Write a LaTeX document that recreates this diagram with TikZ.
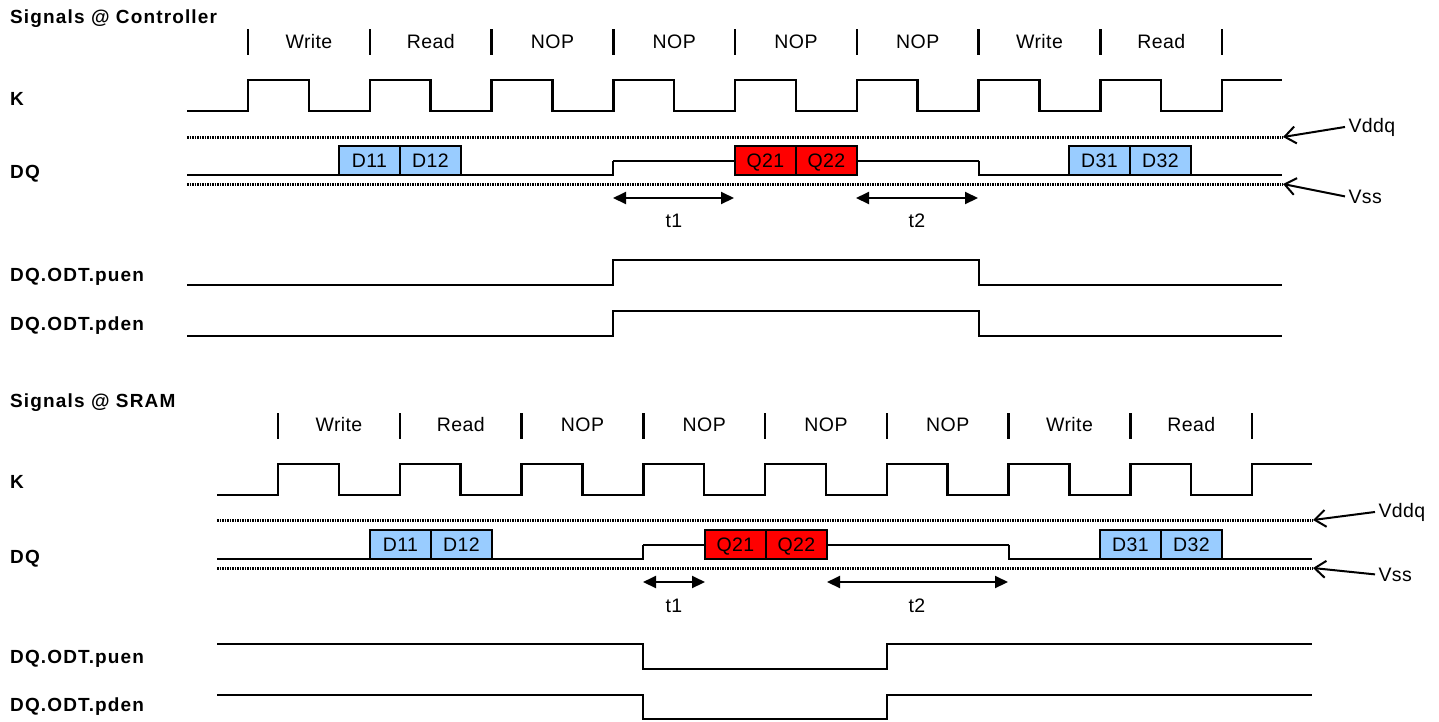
\documentclass[tikz,border=0pt]{standalone}
\usepackage{fontspec}
\setmainfont{Liberation Sans}[LetterSpace=2, BoldFeatures={LetterSpace=6}]
\usetikzlibrary{arrows.meta,positioning}
\definecolor{wrblue}{RGB}{153,204,255}

\begin{document}
\begin{tikzpicture}[x=1pt, y=-1pt, font=\fontsize{19.5}{22}\selectfont,
    sig/.style={line width=2.5pt},
    mid/.style={line width=2pt},
    rail/.style={line width=3pt, dash pattern=on 1.5pt off 1pt},
    word/.style={draw, line width=2.5pt, fill=wrblue, minimum width=61pt, minimum height=29pt, inner sep=0pt, outer sep=0pt, text height=14pt, text depth=0pt},
    rword/.style={word, fill=red},
    signame/.style={font=\fontsize{19}{22}\selectfont\bfseries, anchor=base west, inner sep=0pt},
    span/.style={line width=2pt, {Triangle[length=13pt,width=12pt]}-{Triangle[length=13pt,width=12pt]}},
    pin/.style={line width=2pt, -{Straight Barb[length=11pt,width=17pt]}}]
\useasboundingbox (0,0) rectangle (1439,721);

    % Signals @ Controller
    \node[signame] (ctrl) at (10,23) {Signals @ Controller};
    \node[signame] (ck) at (10,105) {K};
    \node[signame] (cdq) at (10,178) {DQ};
    \node[signame] (cpuen) at (10,281) {DQ.ODT.puen};
    \node[signame] (cpden) at (10,330) {DQ.ODT.pden};

    \foreach \i in {0,...,8}
        \draw[sig] (248+121.75*\i,29) -- ++(0,26);
    \foreach \op [count=\i from 0] in {Write,Read,NOP,NOP,NOP,NOP,Write,Read}
        \node[anchor=base] (cop\i) at (309+121.75*\i,48) {\op};

    \draw[sig] (187,111) \foreach \i in {0,...,7} { -- (248+121.75*\i,111) -- ++(0,-31) -- ++(60.9,0) -- ++(0,31) } -- (1222,111) -- (1222,80) -- (1282,80);

    \draw[rail] (187,137) -- (1283,137) coordinate (cvdd);
    \draw[rail] (187,184) -- (1283,184) coordinate (cvss);

    \node[word, anchor=south west] (cd11) at (339,175) {D11};
    \node[word, right=0pt of cd11] (cd12) {D12};
    \node[rword, anchor=south west] (cq21) at (735,175) {Q21};
    \node[rword, right=0pt of cq21] (cq22) {Q22};
    \node[word, anchor=south west] (cd31) at (1069,175) {D31};
    \node[word, right=0pt of cd31] (cd32) {D32};
    \draw[sig] (187,175) -- (cd11.south west);
    \draw[sig] (cd12.south east) -- (613,175) -- (613,160.5);
    \draw[mid] (613,160.5) -- (cq21.west);
    \draw[mid] (cq22.east) -- (979,160.5);
    \draw[sig] (979,160.5) -- (979,175) -- (cd31.south west);
    \draw[sig] (cd32.south east) -- (1282,175);

    \coordinate (ct1a) at (613,198);
    \coordinate (ct1b) at (734,198);
    \coordinate (ct2a) at (856,198);
    \coordinate (ct2b) at (978,198);
    \draw[span] (ct1a) -- (ct1b);
    \draw[span] (ct2a) -- (ct2b);
    \node[anchor=base] (ct1) at (674,227) {t1};
    \node[anchor=base] (ct2) at (917,227) {t2};

    \node[anchor=base west] (cvddq) at (1345,132) {Vddq};
    \node[anchor=base west] (cvsslbl) at (1345,203) {Vss};
    \draw[pin] (cvddq.west) -- (cvdd);
    \draw[pin] (cvsslbl.west) -- (cvss);

    \draw[sig] (187,285) -- (613,285) -- (613,260) -- (979,260) -- (979,285) -- (1282,285);
    \draw[sig] (187,336) -- (613,336) -- (613,311) -- (979,311) -- (979,336) -- (1282,336);

    % Signals @ SRAM
    \node[signame] (sram) at (10,407) {Signals @ SRAM};
    \node[signame] (sk) at (10,488) {K};
    \node[signame] (sdq) at (10,563) {DQ};
    \node[signame] (spuen) at (10,663) {DQ.ODT.puen};
    \node[signame] (spden) at (10,711) {DQ.ODT.pden};

    \foreach \i in {0,...,8}
        \draw[sig] (278+121.75*\i,413) -- ++(0,26);
    \foreach \op [count=\i from 0] in {Write,Read,NOP,NOP,NOP,NOP,Write,Read}
        \node[anchor=base] (sop\i) at (339+121.75*\i,431) {\op};

    \draw[sig] (217,495) \foreach \i in {0,...,7} { -- (278+121.75*\i,495) -- ++(0,-31) -- ++(60.9,0) -- ++(0,31) } -- (1252,495) -- (1252,464) -- (1312,464);

    \draw[rail] (217,520) -- (1313,520) coordinate (svdd);
    \draw[rail] (217,568) -- (1313,568) coordinate (svss);

    \node[word, anchor=south west] (sd11) at (370,559) {D11};
    \node[word, right=0pt of sd11] (sd12) {D12};
    \node[rword, anchor=south west] (sq21) at (705,559) {Q21};
    \node[rword, right=0pt of sq21] (sq22) {Q22};
    \node[word, anchor=south west] (sd31) at (1100,559) {D31};
    \node[word, right=0pt of sd31] (sd32) {D32};
    \draw[sig] (217,559) -- (sd11.south west);
    \draw[sig] (sd12.south east) -- (643,559) -- (643,544.5);
    \draw[mid] (643,544.5) -- (sq21.west);
    \draw[mid] (sq22.east) -- (1009,544.5);
    \draw[sig] (1009,544.5) -- (1009,559) -- (sd31.south west);
    \draw[sig] (sd32.south east) -- (1312,559);

    \coordinate (st1a) at (643,582);
    \coordinate (st1b) at (705,582);
    \coordinate (st2a) at (827,582);
    \coordinate (st2b) at (1008,582);
    \draw[span] (st1a) -- (st1b);
    \draw[span] (st2a) -- (st2b);
    \node[anchor=base] (st1) at (674,612) {t1};
    \node[anchor=base] (st2) at (917,612) {t2};

    \node[anchor=base west] (svddq) at (1375,517) {Vddq};
    \node[anchor=base west] (svsslbl) at (1375,581) {Vss};
    \draw[pin] (svddq.west) -- (svdd);
    \draw[pin] (svsslbl.west) -- (svss);

    \draw[sig] (217,644) -- (643,644) -- (643,669) -- (887,669) -- (887,644) -- (1312,644);
    \draw[sig] (217,695) -- (643,695) -- (643,719) -- (887,719) -- (887,695) -- (1312,695);
\end{tikzpicture}
\end{document}
